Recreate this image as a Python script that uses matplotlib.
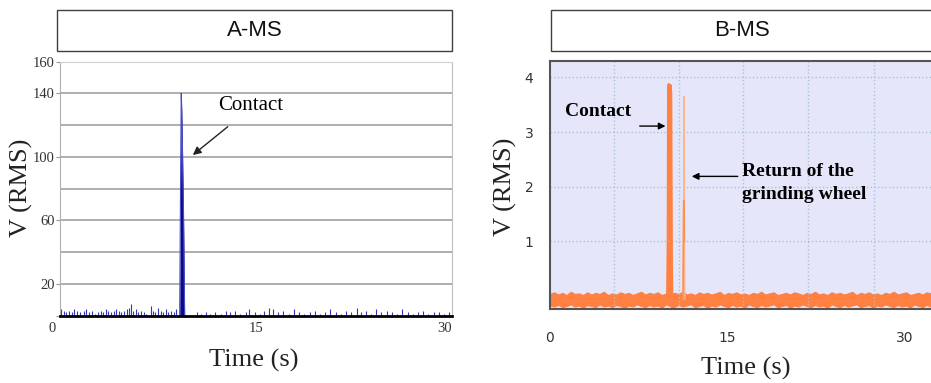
import numpy as np
import matplotlib
matplotlib.use('Agg')
import matplotlib.pyplot as plt
from matplotlib.patches import Rectangle
from matplotlib.transforms import ScaledTranslation

# ---- data ----
# A-MS: small background spikes (time s, V) and the contact burst
a_noise_t = [0.1, 0.3, 0.45, 0.7, 0.9, 1.1, 1.3, 1.55, 1.8, 2.0, 2.2, 2.45, 2.7, 2.9,
             3.1, 3.3, 3.5, 3.7, 3.9, 4.1, 4.3, 4.5, 4.7, 4.9, 5.1, 5.3, 5.45, 5.6,
             5.8, 6.0, 6.2, 6.45, 6.6, 6.95, 7.1, 7.3, 7.5, 7.7, 7.9, 8.1, 8.3, 8.5,
             8.7, 8.9,
             10.5, 10.8, 11.2, 11.5, 11.9, 12.3, 12.7, 13.0, 13.4, 13.8, 14.2, 14.5,
             14.9, 15.3, 15.6, 16.0, 16.3, 16.7, 17.1, 17.5, 17.9, 18.3, 18.7, 19.1,
             19.5, 19.9, 20.3, 20.7, 21.1, 21.5, 21.9, 22.3, 22.7, 23.0, 23.4, 23.8,
             24.2, 24.6, 25.0, 25.4, 25.8, 26.2, 26.6, 27.0, 27.4, 27.8, 28.2, 28.6,
             29.0, 29.4, 29.8]
a_noise_v = [4, 3, 2, 3, 2, 4, 3, 2, 3, 4, 2, 3, 1, 2,
             3, 2, 4, 3, 2, 3, 4, 3, 2, 3, 4, 5, 7, 3,
             4, 2, 3, 2, 1, 6, 3, 2, 5, 3, 2, 4, 2, 3,
             2, 4,
             2, 1, 2, 1, 2, 1, 3, 2, 3, 1, 2, 4,
             2, 1, 3, 5, 4, 2, 3, 1, 4, 2, 1, 2,
             3, 1, 2, 4, 2, 1, 3, 2, 5, 2, 3, 1,
             4, 2, 3, 2, 1, 4, 2, 1, 2, 3, 1, 2,
             2, 1, 2]
a_spike_t = [9.16, 9.2, 9.24, 9.28, 9.32, 9.36, 9.4, 9.44, 9.48, 9.54]
a_spike_v = [0, 50, 100, 140, 128, 112, 90, 72, 45, 0]

# B-MS: noise band (upper / lower edge every 0.35 s), contact burst, return of the wheel
b_band_hi = [0.04, 0.07, 0.03, 0.06, 0.02, 0.08, 0.04, 0.05, 0.02, 0.07, 0.03, 0.06, 0.04, 0.08, 0.02,
             0.05, 0.03, 0.07, 0.04, 0.06, 0.02, 0.05, 0.08, 0.03, 0.06, 0.04, 0.07, 0.02, 0.05, 0.03,
             0.06, 0.04, 0.08, 0.03, 0.05, 0.02, 0.07, 0.04, 0.06, 0.03, 0.05, 0.08, 0.02, 0.06, 0.04,
             0.07, 0.03, 0.05, 0.02, 0.06, 0.04, 0.08, 0.03, 0.05, 0.07, 0.02, 0.04, 0.06, 0.03, 0.07,
             0.05, 0.02, 0.06, 0.04, 0.08, 0.03, 0.05, 0.02, 0.07, 0.04, 0.06, 0.03, 0.05, 0.08, 0.02,
             0.06, 0.04, 0.07, 0.03, 0.05, 0.02, 0.06, 0.04, 0.08, 0.03, 0.05, 0.07, 0.02, 0.04, 0.06,
             0.03, 0.07, 0.05, 0.02, 0.06, 0.04, 0.08, 0.03, 0.05, 0.04]
b_band_lo = [-0.17, -0.19, -0.16, -0.20, -0.18, -0.15, -0.19, -0.17, -0.21, -0.16, -0.18, -0.20, -0.15, -0.19, -0.17,
             -0.20, -0.16, -0.18, -0.21, -0.17, -0.19, -0.15, -0.18, -0.20, -0.16, -0.19, -0.17, -0.21, -0.15, -0.18,
             -0.20, -0.16, -0.19, -0.17, -0.15, -0.20, -0.18, -0.16, -0.21, -0.17, -0.19, -0.15, -0.18, -0.20, -0.16,
             -0.19, -0.17, -0.21, -0.15, -0.18, -0.20, -0.16, -0.19, -0.17, -0.15, -0.20, -0.18, -0.16, -0.21, -0.17,
             -0.19, -0.15, -0.18, -0.20, -0.16, -0.19, -0.17, -0.21, -0.15, -0.18, -0.20, -0.16, -0.19, -0.17, -0.15,
             -0.20, -0.18, -0.16, -0.21, -0.17, -0.19, -0.15, -0.18, -0.20, -0.16, -0.19, -0.17, -0.21, -0.15, -0.18,
             -0.20, -0.16, -0.19, -0.17, -0.15, -0.20, -0.18, -0.16, -0.19, -0.17]
b_band_t = np.arange(len(b_band_hi)) * 0.35
b_spike_t = [9.9, 9.95, 9.98, 10.05, 10.12, 10.2, 10.25, 10.3, 10.35, 10.45]
b_spike_v = [0.0, 1.0, 3.85, 3.88, 3.80, 3.86, 3.70, 0.6, -0.22, -0.05]
b_ret_t = [11.25, 11.3, 11.33, 11.36, 11.4]
b_ret_v = [-0.05, 1.75, 3.65, 1.0, -0.05]

a_yticks = [0, 20, 60, 100, 140, 160]
a_ylabels = ['', '20', '60', '100', '140', '160']
a_grid_y = [20, 40, 60, 80, 100, 120, 140]
b_grid_x = [5.45, 10.9, 16.35, 21.85, 27.35, 32.85]

W, H = 931, 383
fig = plt.figure(figsize=(W / 100, H / 100), dpi=100)
serif = 'Liberation Serif'
sans = 'Liberation Sans'

# title boxes
for x0, x1, label, cx in [(57, 452, 'A-MS', 254.5), (551, 945, 'B-MS', 742)]:
    fig.patches.append(Rectangle((x0 / W, 1 - 51 / H), (x1 - x0) / W, 41 / H,
                                 transform=fig.transFigure, fill=False,
                                 edgecolor='#404040', lw=1.0))
    fig.text(cx / W, 1 - 31 / H, label, ha='center', va='center',
             family=sans, fontsize=16, color='#111')

# ---- A-MS ----
ax1 = fig.add_axes([60 / W, 67.5 / H, 392 / W, 254 / H])
for gy in a_grid_y:
    ax1.axhline(gy, color='#a8a8a8', lw=1.3, zorder=0)
ax1.vlines(a_noise_t, 0, a_noise_v, color='#3535b5', lw=0.8)
ax1.fill_between(a_spike_t, 0, a_spike_v, color='#0a0a8a', lw=0)
ax1.plot(a_spike_t, a_spike_v, color='#4a4ac4', lw=0.8)
ax1.set_xlim(0, 30)
ax1.set_ylim(0, 160)
ax1.set_xticks([0, 15, 30])
ax1.set_yticks(a_yticks)
ax1.set_yticklabels(a_ylabels)
ax1.tick_params(axis='y', length=3, color='#999', pad=1)
ax1.tick_params(axis='x', length=0, pad=5)
for lab in ax1.get_xticklabels() + ax1.get_yticklabels():
    lab.set_family(serif)
    lab.set_fontsize(10.5)
    lab.set_color('#333')
xl = ax1.get_xticklabels()
xl[0].set_transform(xl[0].get_transform() + ScaledTranslation(-8 / 100, 0, fig.dpi_scale_trans))
xl[2].set_transform(xl[2].get_transform() + ScaledTranslation(-7 / 100, 0, fig.dpi_scale_trans))
ax1.spines['left'].set_color('#b0b0b0')
ax1.spines['top'].set_color('#d0d0d0')
ax1.spines['right'].set_color('#c0c0c0')
ax1.spines['bottom'].set_color('black')
ax1.spines['bottom'].set_linewidth(2)
ax1.annotate('', xy=(10.0, 100), xytext=(13.0, 120),
             arrowprops=dict(arrowstyle='-|>', color='#222', lw=1, mutation_scale=12))
ax1.text(14.6, 132, 'Contact', ha='center', va='center', family=serif, fontsize=15)

# ---- B-MS ----
ax2 = fig.add_axes([550 / W, 74 / H, 410 / W, 248 / H])
ax2.set_facecolor('#e6e6fa')
ax2.fill_between(b_band_t, b_band_lo, b_band_hi, color='#ff8040', lw=0.8)
ax2.fill_between(b_spike_t, -0.1, b_spike_v, color='#ff8040', lw=0)
ax2.plot(b_spike_t, b_spike_v, color='#ff8040', lw=1.5)
ax2.plot(b_ret_t, b_ret_v, color='#ffb58a', lw=1)
ax2.plot(b_ret_t[:4], [b_ret_v[0], b_ret_v[1], 1.75, b_ret_v[3]], color='#ff9050', lw=1.2)
ax2.set_xlim(0, 410 / 11.83)
ax2.set_ylim(-0.235, 4.30)
ax2.set_xticks([0, 15, 30])
ax2.set_yticks([1, 2, 3, 4])
ax2.set_xticks(b_grid_x, minor=True)
ax2.grid(which='minor', axis='x', color='#a8c4d4', lw=1, ls=':')
ax2.grid(which='major', axis='y', color='#a8c4d4', lw=1, ls=':')
ax2.tick_params(which='both', length=0)
ax2.tick_params(axis='x', pad=16)
ax2.tick_params(axis='y', pad=12)
for lab in ax2.get_xticklabels() + ax2.get_yticklabels():
    lab.set_family('DejaVu Sans')
    lab.set_fontsize(10)
    lab.set_color('#333')
for s in ax2.spines.values():
    s.set_color('#555')
    s.set_linewidth(1.5)
ax2.annotate('', xy=(10.0, 3.11), xytext=(7.35, 3.11),
             arrowprops=dict(arrowstyle='-|>', color='black', lw=1, mutation_scale=10))
ax2.text(4.05, 3.38, 'Contact', ha='center', va='center', family=serif,
         fontweight='bold', fontsize=14)
ax2.annotate('', xy=(11.75, 2.19), xytext=(16.1, 2.19),
             arrowprops=dict(arrowstyle='-|>', color='black', lw=1, mutation_scale=10))
ax2.text(16.2, 2.07, 'Return of the\ngrinding wheel', ha='left', va='center',
         family=serif, fontweight='bold', fontsize=14, linespacing=1.5)

# axis labels
fig.text(21 / W, 1 - 188 / H, 'V (RMS)', rotation=90, ha='center', va='center',
         family=serif, fontsize=19, color='#222')
fig.text(505 / W, 1 - 187 / H, 'V (RMS)', rotation=90, ha='center', va='center',
         family=serif, fontsize=19, color='#222')
fig.text(254 / W, 1 - 360 / H, 'Time (s)', ha='center', va='center',
         family=serif, fontsize=19, color='#222')
fig.text(746 / W, 1 - 368 / H, 'Time (s)', ha='center', va='center',
         family=serif, fontsize=19, color='#222')

fig.savefig('out.png', dpi=100)
